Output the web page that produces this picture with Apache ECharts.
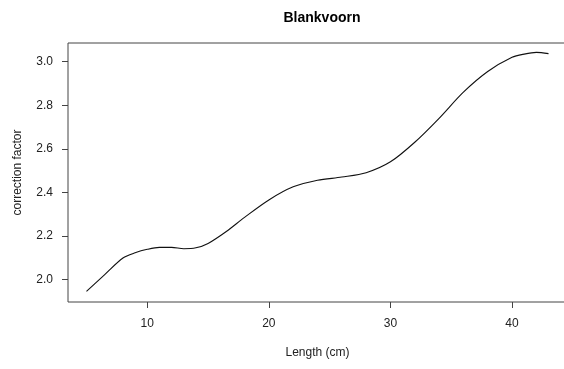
<!DOCTYPE html>
<html>
<head>
<meta charset="utf-8">
<script src="https://cdn.jsdelivr.net/npm/echarts@6/dist/echarts.min.js"></script>
<style>html,body{margin:0;padding:0;background:#fff}#c{width:564px;height:369px}</style>
</head>
<body>
<div id="c"></div>
<script>
const lengths = [5, 6.5, 8, 9, 10, 11, 12, 13, 14, 15, 16.5, 18, 20, 22, 24, 26, 28, 30, 32, 34, 36, 38, 40, 41, 42, 43];
const factors = [1.945, 2.022, 2.098, 2.122, 2.138, 2.147, 2.147, 2.141, 2.145, 2.165, 2.22, 2.285, 2.365, 2.425, 2.455, 2.47, 2.49, 2.54, 2.63, 2.74, 2.86, 2.955, 3.02, 3.035, 3.043, 3.037];
const xTicks = [10, 20, 30, 40];
const yTicks = [2.0, 2.2, 2.4, 2.6, 2.8, 3.0];

const font = 'Liberation Sans, Arial, sans-serif';
const chart = echarts.init(document.getElementById('c'), null, {renderer: 'canvas'});
chart.setOption({
  animation: false,
  backgroundColor: '#fff',
  title: {
    text: 'Blankvoorn', left: 317, top: 6, textAlign: 'center',
    textStyle: {fontFamily: font, fontSize: 14, fontWeight: 'bold', color: '#000'}
  },
  grid: {left: 68, top: 43, width: 499, height: 259, outerBoundsMode: 'none', containLabel: false,
         show: true, borderColor: '#444', borderWidth: 1, backgroundColor: 'transparent'},
  xAxis: {
    type: 'value', min: 3.48, max: 44.52,
    name: 'Length (cm)', nameLocation: 'middle', nameGap: 45,
    nameTextStyle: {fontFamily: font, fontSize: 12, color: '#222'},
    axisLine: {show: false},
    splitLine: {show: false},
    axisTick: {show: true, length: 6, customValues: xTicks, lineStyle: {color: '#444'}},
    axisLabel: {customValues: xTicks, margin: 16, fontFamily: font, fontSize: 12, color: '#222', formatter: v => String(v)}
  },
  yAxis: {
    type: 'value', min: 1.896, max: 3.086,
    name: 'correction factor', nameLocation: 'middle', nameGap: 44,
    nameTextStyle: {fontFamily: font, fontSize: 12, color: '#222'},
    axisLine: {show: false},
    splitLine: {show: false},
    axisTick: {show: true, length: 6, customValues: yTicks, lineStyle: {color: '#444'}},
    axisLabel: {customValues: yTicks, margin: 15, fontFamily: font, fontSize: 12, color: '#222', formatter: v => v.toFixed(1)}
  },
  series: [{
    type: 'line', data: lengths.map((x, i) => [x, factors[i]]),
    smooth: 0.3, showSymbol: false, symbol: 'none',
    lineStyle: {color: '#111', width: 1.1}
  }]
});
</script>
</body>
</html>
